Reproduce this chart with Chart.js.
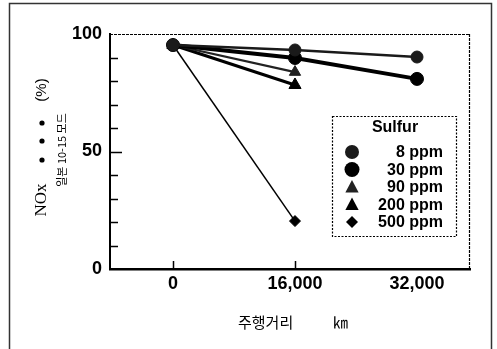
<!DOCTYPE html>
<html><head><meta charset="utf-8">
<script src="https://cdn.jsdelivr.net/npm/chart.js@4/dist/chart.umd.min.js"></script>
<style>html,body{margin:0;padding:0;background:#fff;}#wrap{width:497px;height:349px;position:relative;}</style>
</head><body><div id="wrap"><canvas id="c" width="497" height="349"></canvas></div>
<script>
// ---- data ----
const distances = [0, 16000, 32000];
const seriesLabels = ['8 ppm', '30 ppm', '90 ppm', '200 ppm', '500 ppm'];
const s8ppm = [95.3, 93.2, 90.2];
const s30ppm = [95.3, 89.8, 80.9];
const s90ppm = [95.3, 83.8];
const s200ppm = [95.3, 78.3];
const s500ppm = [95.3, 20.4];
const xTickValues = [0, 16000, 32000];
const xTickLabels = ['0', '16,000', '32,000'];
const yTickValues = [0, 50, 100];
const yTickLabels = ['0', '50', '100'];
const legendTitle = 'Sulfur';
const xTitle = '주행거리';
const xUnit = '㎞';
const yTitleMain = 'NOx';
const yTitleUnit = '(%)';
const yTitleSub = '일본 10-15 모드';

const seriesValues = [s8ppm, s30ppm, s90ppm, s200ppm, s500ppm];
const styles = [
  {pointStyle: 'circle', radius: 6, width: 2.5, color: '#1a1a1a', lr: 7},
  {pointStyle: 'circle', radius: 6.5, width: 4, color: '#000', lr: 7.5},
  {pointStyle: 'triangle', radius: 6.5, width: 2.2, color: '#222', lr: 7},
  {pointStyle: 'triangle', radius: 7, width: 3, color: '#000', lr: 7},
  {pointStyle: 'rectRot', radius: 5.5, width: 1.5, color: '#000', lr: 6}
];

const datasets = seriesValues.map((vals, i) => ({
  label: seriesLabels[i],
  data: vals.map((v, j) => ({x: distances[j], y: v})),
  borderColor: styles[i].color,
  backgroundColor: styles[i].color,
  borderWidth: styles[i].width,
  pointStyle: styles[i].pointStyle,
  pointRadius: styles[i].radius,
  pointBorderWidth: 1,
  pointBorderColor: styles[i].color,
  pointBackgroundColor: styles[i].color,
  tension: 0,
  fill: false
}));

function drawMarker(ctx, style, r, x, y) {
  ctx.beginPath();
  if (style === 'circle') {
    ctx.arc(x, y, r, 0, Math.PI * 2);
  } else if (style === 'triangle') {
    ctx.moveTo(x, y - r);
    ctx.lineTo(x + r * 0.95, y + r * 0.8);
    ctx.lineTo(x - r * 0.95, y + r * 0.8);
    ctx.closePath();
  } else {
    ctx.moveTo(x, y - r);
    ctx.lineTo(x + r, y);
    ctx.lineTo(x, y + r);
    ctx.lineTo(x - r, y);
    ctx.closePath();
  }
  ctx.fill();
}

const decor = {
  id: 'decor',
  beforeDatasetsDraw(chart) {
    const ctx = chart.ctx, a = chart.chartArea;
    const xs = chart.scales.x, ys = chart.scales.y;
    ctx.save();
    // dashed top & right frame
    ctx.strokeStyle = '#000';
    ctx.lineWidth = 1.2;
    ctx.setLineDash([3, 1]);
    ctx.beginPath();
    ctx.moveTo(a.left, a.top + 0.5); ctx.lineTo(a.right, a.top + 0.5);
    ctx.moveTo(a.right - 0.5, a.top); ctx.lineTo(a.right - 0.5, a.bottom);
    ctx.stroke();
    ctx.setLineDash([]);
    // inward y ticks
    ctx.lineWidth = 1.5;
    ctx.beginPath();
    for (let v = 10; v < 100; v += 10) {
      const py = Math.round(ys.getPixelForValue(v)) + 0.5;
      const len = (v === 50) ? 12 : 8;
      ctx.moveTo(a.left, py); ctx.lineTo(a.left + len, py);
    }
    // inward x ticks
    [0, 16000].forEach(v => {
      const px = Math.round(xs.getPixelForValue(v)) + 0.5;
      ctx.moveTo(px, a.bottom); ctx.lineTo(px, a.bottom - 8);
    });
    ctx.stroke();
    ctx.restore();
  },
  afterDraw(chart) {
    const ctx = chart.ctx;
    ctx.save();
    // outer frame
    ctx.strokeStyle = '#333';
    ctx.lineWidth = 1.5;
    ctx.beginPath();
    ctx.moveTo(9.5, 349); ctx.lineTo(9.5, 3.5); ctx.lineTo(491.5, 3.5); ctx.lineTo(491.5, 349);
    ctx.stroke();

    // legend box
    const bx = 332, by = 116, bw = 124, bh = 120;
    ctx.fillStyle = '#fff';
    ctx.fillRect(bx, by, bw, bh);
    ctx.strokeStyle = '#000';
    ctx.lineWidth = 1.2;
    ctx.setLineDash([2, 1.5]);
    ctx.strokeRect(bx + 0.5, by + 0.5, bw, bh);
    ctx.setLineDash([]);
    ctx.fillStyle = '#000';
    ctx.font = 'bold 16px "Liberation Sans", Arial, sans-serif';
    ctx.textAlign = 'center';
    ctx.textBaseline = 'middle';
    ctx.fillText(legendTitle, 395, 128);
    const rowY = [152, 169.5, 187, 204.5, 222];
    seriesLabels.forEach((lab, i) => {
      ctx.fillStyle = styles[i].color;
      drawMarker(ctx, styles[i].pointStyle, styles[i].lr, 352, rowY[i]);
      ctx.fillStyle = '#000';
      ctx.textAlign = 'right';
      ctx.fillText(lab, 443, rowY[i] + 1);
    });

    // x title
    ctx.font = '15px "Noto Sans CJK KR", sans-serif';
    ctx.textAlign = 'left';
    ctx.textBaseline = 'middle';
    ctx.fillText(xTitle, 238, 322);
    ctx.fillText(xUnit, 333, 322);

    // y title (rotated)
    ctx.save();
    ctx.translate(42, 0);
    ctx.rotate(-Math.PI / 2);
    ctx.textAlign = 'center';
    ctx.textBaseline = 'middle';
    ctx.font = '17px "Liberation Serif", "Times New Roman", serif';
    ctx.fillText(yTitleMain, -200, 0);
    ctx.font = '15px "Liberation Sans", Arial, sans-serif';
    ctx.fillText(yTitleUnit, -90, 0);
    [123, 141, 160].forEach(y => {
      ctx.beginPath(); ctx.arc(-y, 0, 2.6, 0, Math.PI * 2); ctx.fill();
    });
    ctx.restore();
    ctx.save();
    ctx.translate(62, 150);
    ctx.rotate(-Math.PI / 2);
    ctx.textAlign = 'center';
    ctx.textBaseline = 'middle';
    ctx.font = '11px "Noto Sans CJK KR", sans-serif';
    ctx.fillText(yTitleSub, 0, 0);
    ctx.restore();

    ctx.restore();
  }
};

new Chart(document.getElementById('c'), {
  type: 'line',
  data: {datasets},
  plugins: [decor],
  options: {
    responsive: false,
    animation: false,
    devicePixelRatio: 1,
    layout: {padding: {left: 0, top: 34, right: 27, bottom: 50}},
    plugins: {legend: {display: false}, tooltip: {enabled: false}},
    scales: {
      x: {
        type: 'linear',
        min: -8260,
        max: 38950,
        afterFit(s) { s.height = 30; },
        afterBuildTicks(s) { s.ticks = xTickValues.map(v => ({value: v})); },
        grid: {display: false, drawTicks: false},
        border: {display: true, color: '#000', width: 2.5},
        ticks: {
          autoSkip: false,
          maxRotation: 0,
          padding: 4,
          color: '#000',
          font: {family: '"Liberation Sans", Arial, sans-serif', size: 18, weight: 'bold'},
          callback: (v) => { const k = xTickValues.indexOf(v); return k >= 0 ? xTickLabels[k] : ''; }
        }
      },
      y: {
        type: 'linear',
        min: 0,
        max: 100,
        afterFit(s) { s.width = 110; },
        afterBuildTicks(s) { s.ticks = yTickValues.map(v => ({value: v})); },
        grid: {display: false, drawTicks: false},
        border: {display: true, color: '#000', width: 2},
        ticks: {
          padding: 8,
          color: '#000',
          font: {family: '"Liberation Sans", Arial, sans-serif', size: 18, weight: 'bold'},
          callback: (v) => { const k = yTickValues.indexOf(v); return k >= 0 ? yTickLabels[k] : ''; }
        }
      }
    }
  }
});
</script>
</body></html>
